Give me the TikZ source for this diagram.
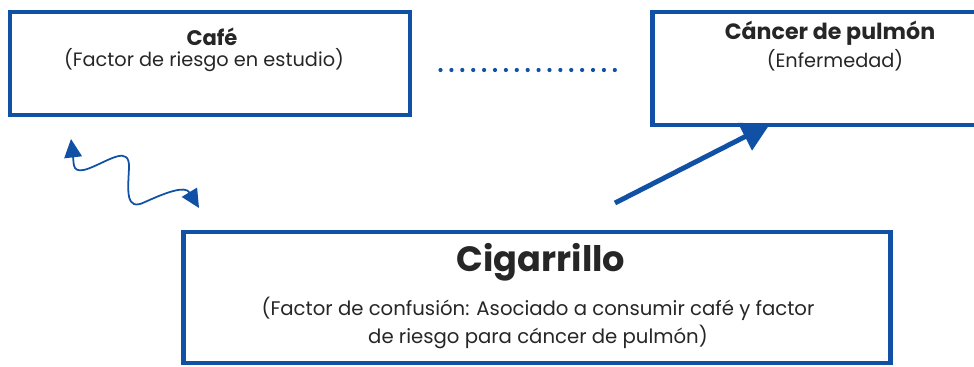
\documentclass[tikz,border=0pt]{standalone}
\usepackage{fontspec}
\setmainfont{Poppins}
\usepackage{tikz}
\usetikzlibrary{positioning,arrows.meta}
\definecolor{azul}{RGB}{16,80,165}

\begin{document}
\begin{tikzpicture}[x=0.02cm, y=-0.02cm,
    caja/.style={draw=azul, line width=2.8pt, inner sep=0pt},
    titulo/.style={font=\bfseries\fontsize{12}{14}\selectfont, text=black!85},
    texto/.style={font=\fontsize{11}{16}\selectfont, text=black!85, align=center}]

    \clip (0,0) rectangle (974,367);

    \node[caja, minimum width=8cm,     minimum height=2.06cm] (cafe)   at (210,63.5) {};
    \node[caja, minimum width=7.16cm,  minimum height=2.26cm] (cancer) at (831,68.5) {};
    \node[caja, minimum width=14.16cm, minimum height=2.62cm] (cigar)  at (537,297.5) {};

    \node[titulo] (cafeT) at (212,37) {Café};
    \node[texto]  (cafeS) at (204,60) {(Factor de riesgo en estudio)};
    \node[titulo, font=\bfseries\fontsize{12.6}{14}\selectfont] (cancerT) at (830,33) {Cáncer de pulmón};
    \node[texto]  (cancerS) at (835,60) {(Enfermedad)};
    \node[titulo, font=\bfseries\fontsize{20}{24}\selectfont] (cigarT) at (541,262) {Cigarrillo};
    \node[texto, font=\fontsize{11.2}{16}\selectfont] (cigarS) at (538,323) {(Factor de confusión: Asociado a consumir café y factor\\de riesgo para cáncer de pulmón)};

    % asociacion observada
    \draw[azul, line width=2.4pt, dash pattern=on 0pt off 6.2pt, line cap=round, shorten <=16pt, shorten >=19pt]
        (cafe.east |- 0,70) -- (cancer.west |- 0,70);

    % cigarrillo -> cancer
    \coordinate (sal) at (615,203);
    \draw[azul, line width=2.8pt, -{Triangle[length=16pt, width=17pt]}]
        (sal) -- ([yshift=2pt]cancer.south -| 770,0);

    % cafe <-> cigarrillo
    \coordinate (ondaA) at (71,139);
    \coordinate (ondaB) at (199,208);
    \draw[azul, line width=1pt, {Triangle[length=10.5pt, width=10pt]}-{Triangle[length=10.5pt, width=10pt]}]
        (ondaA) .. controls (74,165) and (72,175) .. (90,168)
        .. controls (110,160) and (130,145) .. (129,168)
        .. controls (128,190) and (125,212) .. (145,202)
        .. controls (165,193) and (185,185) .. (ondaB);
\end{tikzpicture}
\end{document}
